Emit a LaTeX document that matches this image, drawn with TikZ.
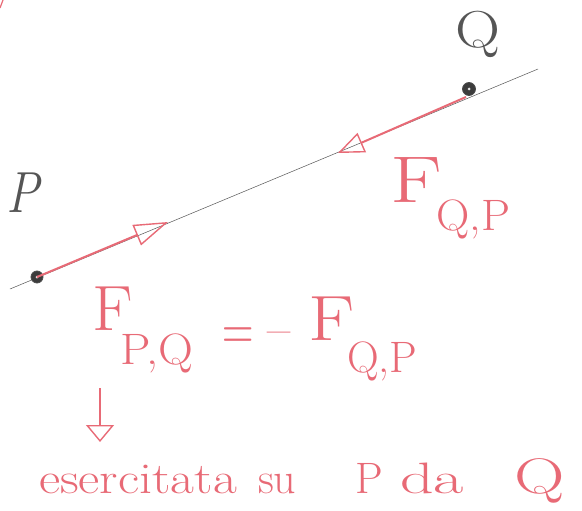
\documentclass[tikz,border=0pt]{standalone}
\usetikzlibrary{arrows.meta}
\definecolor{pencilred}{RGB}{232,106,118}
\definecolor{pencilgray}{RGB}{85,85,85}
\definecolor{dotgray}{RGB}{60,60,60}
\tikzset{
  redtxt/.style={text=pencilred, inner sep=0pt},
  graytxt/.style={text=pencilgray, inner sep=0pt},
  axisline/.style={draw=pencilgray, line width=0.5pt},
  force/.style={draw=pencilred, line width=2pt, -{Triangle[open, length=34pt, width=22pt, line width=1.4pt]}},
  particle/.style={circle, fill=dotgray, draw=black!70, line width=0.8pt, minimum size=12pt, inner sep=0pt},
}
\begin{document}
\begin{tikzpicture}[x=1pt,y=-1pt]
\useasboundingbox[fill=white] (0,0) rectangle (582,511);
% line
\coordinate (L0) at (10,289);
\coordinate (L1) at (538,69);
\draw[axisline] (L0) -- (L1);
% corner mark
\coordinate (c0) at (0,8);
\coordinate (c1) at (3,0);
\draw[pencilred, line width=1.2pt] (c0) -- (c1);
% particles
\node[particle] (P) at (37,277) {};
\node[fill=white!80!gray, circle, inner sep=0pt, minimum size=3pt] at (P) {};
\node[particle, minimum size=13pt] (Q) at (469,89) {};
\node[fill=white!80!gray, circle, inner sep=0pt, minimum size=3pt] at (Q) {};
% forces
\coordinate (PQtip) at (168,222);
\coordinate (QPtip) at (338,153);
\coordinate (Qs) at (466,97);
\draw[force] (P.center) -- (PQtip);
\draw[force, -{Triangle[open, length=26pt, width=21pt, line width=1.4pt]}] (Qs) -- (QPtip);
% labels P and Q
\node[graytxt, anchor=base west, font=\fontsize{58}{58}\selectfont\itshape] (Plab) at (6,212) {\scalebox{0.85}[1]{P}};
\node[graytxt, anchor=base west, font=\fontsize{52}{52}\selectfont] (Qlab) at (455,48) {\scalebox{1.2}[1]{Q}};
% F_{Q,P}
\node[redtxt, anchor=base west, font=\fontsize{66}{66}\selectfont] (F1) at (390,203) {\scalebox{1.3}[1]{F}};
\node[redtxt, anchor=base west, font=\fontsize{44}{44}\selectfont] (F1s) at (436,230) {\scalebox{1.05}[1]{Q,P}};
% equation
\node[redtxt, anchor=base west, font=\fontsize{64}{64}\selectfont] (F2) at (92,330) {\scalebox{1.05}[1]{F}};
\node[redtxt, anchor=base west, font=\fontsize{44}{44}\selectfont] (F2s) at (120,364) {\scalebox{1.1}[1]{P,Q}};
\node[redtxt, anchor=base west, font=\fontsize{64}{64}\selectfont] (eq) at (222,350) {\scalebox{0.68}[1]{=}};
\node[redtxt, anchor=base west, font=\fontsize{56}{56}\selectfont] (mn) at (267,347) {\scalebox{0.9}[1]{\textendash}};
\node[redtxt, anchor=base west, font=\fontsize{64}{64}\selectfont] (F3) at (308,340) {\scalebox{1.2}[1]{F}};
\node[redtxt, anchor=base west, font=\fontsize{44}{44}\selectfont] (F3s) at (347,372) {\scalebox{1.0}[1]{Q,P}};
% down arrow
\coordinate (d0) at (100,388);
\coordinate (d1) at (100,442);
\draw[draw=pencilred, line width=1.5pt, -{Triangle[open, length=17pt, width=28pt, line width=1.4pt]}] (d0) -- (d1);
% bottom text
\node[redtxt, anchor=base west, font=\fontsize{44}{44}\selectfont] (w1) at (39,493) {\scalebox{1.18}[1]{esercitata}};
\node[redtxt, anchor=base west, font=\fontsize{44}{44}\selectfont] (w2) at (258,493) {su};
\node[redtxt, anchor=base west, font=\fontsize{44}{44}\selectfont] (w3) at (355,493) {P};
\node[redtxt, anchor=base west, font=\fontsize{44}{44}\selectfont] (w4) at (400,493) {\scalebox{1.5}[1]{da}};
\node[redtxt, anchor=base west, font=\fontsize{50}{50}\selectfont] (w5) at (514,493) {\scalebox{1.4}[1]{Q}};
\end{tikzpicture}
\end{document}
